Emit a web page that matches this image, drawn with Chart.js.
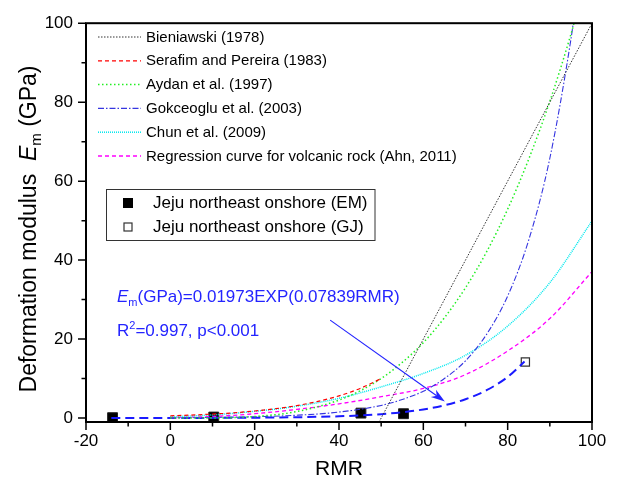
<!DOCTYPE html>
<html><head><meta charset="utf-8">
<script src="https://cdn.jsdelivr.net/npm/chart.js@4/dist/chart.umd.min.js"></script>
<style>html,body{margin:0;padding:0;background:#fff;}#wrap{width:619px;height:484px;}</style>
</head><body><div id="wrap"><canvas id="c" width="619" height="484"></canvas></div>
<script>
// ---- data ----
const xTickValues = [-20, 0, 20, 40, 60, 80, 100];
const yTickValues = [0, 20, 40, 60, 80, 100];
const xMinorTicks = [-10, 10, 30, 50, 70, 90];
const yMinorTicks = [10, 30, 50, 70, 90];

const rmrBieniawski = [49.5, 100];
const emBieniawski = [-1, 100];

const rmrSerafim = [0, 5, 10, 15, 20, 25, 30, 35, 40, 45, 50];
const emSerafim = [0.56, 0.75, 1.0, 1.33, 1.78, 2.37, 3.16, 4.22, 5.62, 7.5, 10.0];

const rmrAydan = [0, 10, 20, 30, 40, 45, 50, 55, 60, 65, 70, 75, 80, 85, 90, 95, 96];
const emAydan = [0, 0.03, 0.39, 1.64, 4.55, 6.9, 10.0, 14.1, 19.1, 25.4, 33.0, 42.1, 52.9, 65.6, 80.2, 97.2, 101];

const rmrGokceoglu = [0, 10, 20, 30, 40, 50, 55, 60, 65, 70, 75, 80, 85, 90, 95, 96];
const emGokceoglu = [0.07, 0.16, 0.33, 0.71, 1.51, 3.2, 4.7, 6.8, 10.0, 14.5, 21.2, 30.9, 45.1, 65.8, 95.9, 103.4];

const rmrChun = [0, 10, 20, 30, 40, 50, 60, 70, 80, 90, 100];
const emChun = [0.3, 0.8, 1.7, 3.0, 5.0, 7.9, 11.3, 15.9, 23.3, 34.3, 49.9];

const rmrAhn = [0, 10, 20, 30, 40, 50, 60, 70, 80, 90, 100];
const emAhn = [0.1, 0.4, 1.1, 2.2, 3.6, 5.4, 7.5, 11.0, 17.0, 25.2, 37.1];

const rmrFit = [-14, -10, -5, 0, 5, 10, 15, 20, 25, 30, 35, 40, 45, 50, 55, 60, 65, 70, 75, 80, 84];
const emFit = [0.0066, 0.009, 0.013, 0.020, 0.029, 0.043, 0.064, 0.095, 0.14, 0.21, 0.31, 0.45, 0.67, 0.99, 1.47, 2.18, 3.22, 4.77, 7.05, 10.4, 14.3];

const rmrEM = [-13.7, 10.3, 45.2, 55.3];
const emEM = [0.1, 0.25, 1.25, 1.1];
const rmrGJ = [84.2];
const emGJ = [14.2];

const arrowFrom = [37.9, 24.8];
const arrowTo = [65.1, 4.2];

const lineLabels = ['Bieniawski (1978)', 'Serafim and Pereira (1983)', 'Aydan et al. (1997)',
  'Gokceoglu et al. (2003)', 'Chun et al. (2009)', 'Regression curve for volcanic rock (Ahn, 2011)'];
const pointLabels = ['Jeju northeast onshore (EM)', 'Jeju northeast onshore (GJ)'];

// ---- styles ----
const FONT = "'Liberation Sans', Arial, sans-serif";
const lineStyles = [
  {color: '#333333', dash: [1.5, 1.5], width: 1},
  {color: '#ff0000', dash: [4, 3], width: 1.2},
  {color: '#22ee22', dash: [1.5, 2.5], width: 1.5},
  {color: '#3535e0', dash: [6, 2, 1.5, 2], width: 1.1},
  {color: '#00e8ee', dash: [1, 1], width: 1.5},
  {color: '#ff00ff', dash: [4, 3], width: 1.3}
];
const curveX = [rmrBieniawski, rmrSerafim, rmrAydan, rmrGokceoglu, rmrChun, rmrAhn];
const curveY = [emBieniawski, emSerafim, emAydan, emGokceoglu, emChun, emAhn];
const pts = (xs, ys) => xs.map((x, i) => ({x: x, y: ys[i]}));

const datasets = curveX.map((xs, k) => ({
  label: lineLabels[k], data: pts(xs, curveY[k]), showLine: true, pointRadius: 0,
  borderColor: lineStyles[k].color, borderDash: lineStyles[k].dash, borderWidth: lineStyles[k].width,
  cubicInterpolationMode: 'monotone', fill: false
}));
datasets.push({label: 'fit', data: pts(rmrFit, emFit), showLine: true, pointRadius: 0,
  borderColor: '#1a1aff', borderDash: [9, 5], borderWidth: 2, cubicInterpolationMode: 'monotone', fill: false});
datasets.push({label: pointLabels[0], data: pts(rmrEM, emEM), showLine: false, pointStyle: 'rect',
  pointRadius: 7, backgroundColor: '#000', borderColor: '#222', borderWidth: 1});
datasets.push({label: pointLabels[1], data: pts(rmrGJ, emGJ), showLine: false, pointStyle: 'rect',
  pointRadius: 5.8, backgroundColor: '#fff', borderColor: '#333', borderWidth: 1.2});

function drawRuns(ctx, x, y, runs) {
  let cx = x;
  runs.forEach(r => { ctx.font = r.font; ctx.fillText(r.t, cx, y + (r.dy || 0)); cx += ctx.measureText(r.t).width; });
}
function runsWidth(ctx, runs) {
  let w = 0; runs.forEach(r => { ctx.font = r.font; w += ctx.measureText(r.t).width; }); return w;
}

const decor = {
  id: 'decor',
  afterDraw(chart) {
    const ctx = chart.ctx, a = chart.chartArea, xs = chart.scales.x, ys = chart.scales.y;
    ctx.save();
    // frame
    ctx.strokeStyle = '#000'; ctx.lineWidth = 2; ctx.setLineDash([]);
    ctx.strokeRect(a.left, a.top, a.right - a.left, a.bottom - a.top);
    // ticks
    ctx.lineWidth = 1.5;
    ctx.beginPath();
    xTickValues.forEach(v => { const p = xs.getPixelForValue(v); ctx.moveTo(p, a.bottom); ctx.lineTo(p, a.bottom + 8); });
    xMinorTicks.forEach(v => { const p = xs.getPixelForValue(v); ctx.moveTo(p, a.bottom); ctx.lineTo(p, a.bottom + 4.5); });
    yTickValues.forEach(v => { const p = ys.getPixelForValue(v); ctx.moveTo(a.left, p); ctx.lineTo(a.left - 8, p); });
    yMinorTicks.forEach(v => { const p = ys.getPixelForValue(v); ctx.moveTo(a.left, p); ctx.lineTo(a.left - 4.5, p); });
    ctx.stroke();

    // axis titles
    ctx.fillStyle = '#000'; ctx.textBaseline = 'alphabetic'; ctx.textAlign = 'left';
    ctx.font = '21px ' + FONT;
    const wR = ctx.measureText('RMR').width;
    ctx.fillText('RMR', (a.left + a.right) / 2 - wR / 2, 475);
    const yRuns = [
      {t: 'Deformation modulus  ', font: '23px ' + FONT},
      {t: 'E', font: 'italic 23px ' + FONT},
      {t: 'm', font: '15px ' + FONT, dy: 5},
      {t: ' (GPa)', font: '23px ' + FONT}
    ];
    ctx.save();
    ctx.translate(36, 229); ctx.rotate(-Math.PI / 2);
    drawRuns(ctx, -runsWidth(ctx, yRuns) / 2, 0, yRuns);
    ctx.restore();

    // legend 1 (lines)
    ctx.font = '15px ' + FONT; ctx.textBaseline = 'middle';
    lineLabels.forEach((lab, k) => {
      const y = 37 + k * 23.8;
      ctx.strokeStyle = lineStyles[k].color; ctx.lineWidth = Math.max(1, lineStyles[k].width);
      ctx.setLineDash(lineStyles[k].dash);
      ctx.beginPath(); ctx.moveTo(98, y); ctx.lineTo(141, y); ctx.stroke();
      ctx.setLineDash([]);
      ctx.fillStyle = '#000'; ctx.fillText(lab, 146, y + 0.5);
    });
    // legend 2 (points)
    ctx.strokeStyle = '#333'; ctx.lineWidth = 1;
    ctx.strokeRect(106.5, 189.5, 268.5, 51);
    ctx.fillStyle = '#000'; ctx.fillRect(123, 198, 10, 10);
    ctx.fillStyle = '#fff'; ctx.strokeStyle = '#333'; ctx.lineWidth = 1.2;
    ctx.fillRect(124, 223, 8, 8); ctx.strokeRect(124, 223, 8, 8);
    ctx.fillStyle = '#000'; ctx.font = '17px ' + FONT;
    ctx.fillText(pointLabels[0], 153, 203.5);
    ctx.fillText(pointLabels[1], 153, 227.5);

    // equation
    ctx.fillStyle = '#2424ff'; ctx.textBaseline = 'alphabetic';
    drawRuns(ctx, 117, 301.7, [
      {t: 'E', font: 'italic 17px ' + FONT},
      {t: 'm', font: '11px ' + FONT, dy: 4},
      {t: '(GPa)=0.01973EXP(0.07839RMR)', font: '17px ' + FONT}
    ]);
    drawRuns(ctx, 117, 335.7, [
      {t: 'R', font: '17px ' + FONT},
      {t: '2', font: '11px ' + FONT, dy: -7},
      {t: '=0.997, p<0.001', font: '17px ' + FONT}
    ]);
    // arrow
    const x0 = xs.getPixelForValue(arrowFrom[0]), y0 = ys.getPixelForValue(arrowFrom[1]);
    const x1 = xs.getPixelForValue(arrowTo[0]), y1 = ys.getPixelForValue(arrowTo[1]);
    const ang = Math.atan2(y1 - y0, x1 - x0);
    ctx.strokeStyle = '#2424ff'; ctx.lineWidth = 1.2;
    ctx.beginPath(); ctx.moveTo(x0, y0);
    ctx.lineTo(x1 - 10 * Math.cos(ang), y1 - 10 * Math.sin(ang)); ctx.stroke();
    ctx.fillStyle = '#2424ff';
    ctx.beginPath(); ctx.moveTo(x1, y1);
    ctx.lineTo(x1 - 14 * Math.cos(ang) + 4.5 * Math.sin(ang), y1 - 14 * Math.sin(ang) - 4.5 * Math.cos(ang));
    ctx.lineTo(x1 - 10 * Math.cos(ang), y1 - 10 * Math.sin(ang));
    ctx.lineTo(x1 - 14 * Math.cos(ang) - 4.5 * Math.sin(ang), y1 - 14 * Math.sin(ang) + 4.5 * Math.cos(ang));
    ctx.closePath(); ctx.fill();
    ctx.restore();
  }
};

new Chart(document.getElementById('c'), {
  type: 'scatter',
  data: {datasets: datasets},
  options: {
    responsive: false, animation: false, devicePixelRatio: 1,
    layout: {padding: {left: 0, top: 15, right: 27, bottom: 0}},
    plugins: {legend: {display: false}, tooltip: {enabled: false}},
    scales: {
      x: {
        type: 'linear', min: -20, max: 100,
        afterBuildTicks: s => { s.ticks = xTickValues.map(v => ({value: v})); },
        grid: {display: false, drawTicks: false}, border: {display: false},
        ticks: {font: {family: FONT, size: 17}, color: '#000', padding: 9, maxRotation: 0, autoSkip: false},
        afterFit: s => { s.height = 62; }
      },
      y: {
        type: 'linear', min: -1, max: 100,
        afterBuildTicks: s => { s.ticks = yTickValues.map(v => ({value: v})); },
        grid: {display: false, drawTicks: false}, border: {display: false},
        ticks: {font: {family: FONT, size: 17}, color: '#000', padding: 13, autoSkip: false},
        afterFit: s => { s.width = 86; }
      }
    }
  },
  plugins: [decor]
});
</script></body></html>
